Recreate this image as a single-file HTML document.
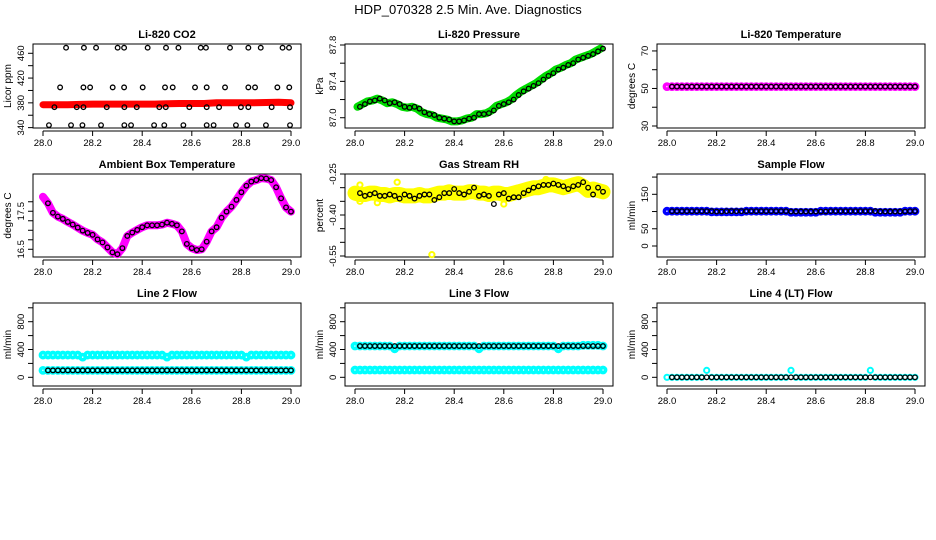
<!DOCTYPE html>
<html><head><meta charset="utf-8">
<style>
html,body{margin:0;padding:0;background:#fff;}
svg{display:block;font-family:"Liberation Sans",Arial,sans-serif;}
</style></head>
<body>
<svg id="fig" width="936" height="540" viewBox="0 0 936 540" xmlns="http://www.w3.org/2000/svg">
<rect width="936" height="540" fill="#fff"/>
<text x="468" y="14" text-anchor="middle" font-size="13">HDP_070328  2.5 Min. Ave. Diagnostics</text>
</svg>
<script>
// ---- data arrays ----
const xTicks = [28.0, 28.2, 28.4, 28.6, 28.8, 29.0];
const xTickLabels = ["28.0","28.2","28.4","28.6","28.8","29.0"];

const co2X = [28.093,28.165,28.214,28.301,28.327,28.422,28.496,28.546,28.636,28.657,28.754,28.828,28.878,28.966,28.992,
 28.069,28.163,28.190,28.281,28.327,28.402,28.492,28.523,28.613,28.660,28.734,28.828,28.855,28.945,28.993,
 28.046,28.136,28.163,28.257,28.328,28.378,28.469,28.495,28.590,28.660,28.710,28.798,28.828,28.922,28.996,
 28.024,28.113,28.159,28.234,28.328,28.355,28.448,28.489,28.566,28.660,28.688,28.778,28.824,28.899,28.996];
const co2Vals = [469,469,469,469,469,469,469,469,469,469,469,469,469,469,469,
 405,405,405,405,405,405,405,405,405,405,405,405,405,405,405,
 373,373,373,373,373,373,373,373,373,373,373,373,373,373,373,
 344,344,344,344,344,344,344,344,344,344,344,344,344,344,344];
const co2Red = [377,377,377,377.5,378,378,378,378,378,378,378.5,379,379,379,380,380,380,380,380.5,381,380];

const pressBlack = [87.12,87.15,87.18,87.19,87.21,87.19,87.16,87.17,87.15,87.12,87.11,87.12,87.10,87.06,87.04,87.03,87.00,86.99,86.98,86.96,86.96,86.97,86.99,87.00,87.04,87.04,87.05,87.08,87.13,87.15,87.17,87.20,87.25,87.29,87.32,87.35,87.38,87.42,87.46,87.49,87.53,87.55,87.58,87.60,87.64,87.66,87.68,87.70,87.73,87.76];

const liTempBlack = [51,51,51,51,51,51,51,51,51,51,51,51,51,51,51,51,51,51,51,51,51,51,51,51,51,51,51,51,51,51,51,51,51,51,51,51,51,51,51,51,51,51,51,51,51,51,51,51,51,51];
const liTempMag = [51,51,51,51,51,51,51,51,51,51,51,51,51,51,51,51,51,51,51,51,51,51,51,51,51,51,51,51,51,51,51,51,51,51,51,51,51,51,51,51,51,51,51,51,51,51,51,51,51,51,51];

const ambVals = [17.88,17.71,17.46,17.36,17.30,17.22,17.15,17.07,16.99,16.93,16.88,16.76,16.68,16.55,16.42,16.37,16.53,16.85,16.94,17.01,17.08,17.13,17.13,17.13,17.15,17.20,17.17,17.13,16.97,16.64,16.53,16.48,16.50,16.70,16.97,17.08,17.33,17.49,17.62,17.80,18.00,18.17,18.28,18.32,18.37,18.36,18.32,18.13,17.84,17.60,17.49];

const rhBlack = [-0.32,-0.33,-0.325,-0.32,-0.33,-0.33,-0.325,-0.33,-0.34,-0.325,-0.33,-0.34,-0.33,-0.325,-0.325,-0.345,-0.335,-0.32,-0.32,-0.305,-0.32,-0.325,-0.315,-0.30,-0.33,-0.325,-0.33,-0.36,-0.325,-0.32,-0.34,-0.335,-0.335,-0.32,-0.31,-0.30,-0.295,-0.29,-0.29,-0.285,-0.29,-0.295,-0.305,-0.295,-0.29,-0.28,-0.30,-0.325,-0.30,-0.315];
const rhYellow = [-0.32,-0.325,-0.325,-0.32,-0.32,-0.325,-0.325,-0.33,-0.325,-0.325,-0.33,-0.33,-0.33,-0.325,-0.33,-0.33,-0.325,-0.32,-0.32,-0.315,-0.32,-0.32,-0.32,-0.315,-0.315,-0.32,-0.32,-0.325,-0.32,-0.32,-0.325,-0.325,-0.32,-0.315,-0.31,-0.305,-0.30,-0.30,-0.295,-0.29,-0.29,-0.295,-0.30,-0.295,-0.29,-0.285,-0.295,-0.31,-0.305,-0.31,-0.315];
const rhOutX = [28.02,28.02,28.17,28.31,28.60,28.09,28.77];
const rhOutVals = [-0.29,-0.35,-0.28,-0.545,-0.36,-0.355,-0.27];

const flowBlack = [101,101,101,101,101,101,101,101,101,100,100,101,101,101,101,101,101,101,101,101,101,101,101,101,100,100,100,100,100,100,100,100,101,101,101,101,101,101,101,101,101,101,100,100,100,100,100,100,101,101];
const flowBlue = [101,101,101,101,101,101,101,101,101,99,99,99,99,99,99,99,101,101,101,101,101,101,101,101,101,98,98,98,98,98,98,101,101,101,101,101,101,101,101,101,101,101,98,98,98,98,98,98,101,101,101];

const l2Black = [100,100,100,100,100,100,100,100,100,100,100,100,100,100,100,100,100,100,100,100,100,100,100,100,100,100,100,100,100,100,100,100,100,100,100,100,100,100,100,100,100,100,100,100,100,100,100,100,100,100];
const l2CyanHi = [320,320,320,320,320,320,320,320,290,320,320,320,320,320,320,320,320,320,320,320,320,320,320,320,320,290,320,320,320,320,320,320,320,320,320,320,320,320,320,320,320,290,320,320,320,320,320,320,320,320,320];
const l2CyanLo = [100,100,100,100,100,100,100,100,100,100,100,100,100,100,100,100,100,100,100,100,100,100,100,100,100,100,100,100,100,100,100,100,100,100,100,100,100,100,100,100,100,100,100,100,100,100,100,100,100,100,100];

const l3Black = [450,450,450,450,450,450,450,450,450,450,450,450,450,450,450,450,450,450,450,450,450,450,450,450,450,450,450,450,450,450,450,450,450,450,450,450,450,450,450,450,450,450,450,450,450,450,450,450,450,450];
const l3CyanHi = [450,450,450,450,450,450,450,450,410,450,450,450,450,450,450,450,450,450,450,450,450,450,450,450,450,410,450,450,450,450,450,450,450,450,450,450,450,450,450,450,450,410,450,450,450,450,460,460,460,460,450];
const l3CyanLo = [105,105,105,105,105,105,105,105,105,105,105,105,105,105,105,105,105,105,105,105,105,105,105,105,105,105,105,105,105,105,105,105,105,105,105,105,105,105,105,105,105,105,105,105,105,105,105,105,105,105,105];

const l4Black = [0,0,0,0,0,0,0,0,0,0,0,0,0,0,0,0,0,0,0,0,0,0,0,0,0,0,0,0,0,0,0,0,0,0,0,0,0,0,0,0,0,0,0,0,0,0,0,0,0,0];
const l4Cyan = [0,0,0,0,0,0,0,0,100,0,0,0,0,0,0,0,0,0,0,0,0,0,0,0,0,100,0,0,0,0,0,0,0,0,0,0,0,0,0,0,0,100,0,0,0,0,0,0,0,0,0];

// ---- drawing ----
const NS = "http://www.w3.org/2000/svg";
const svg = document.getElementById("fig");
function mk(tag, attrs, parent){ const e=document.createElementNS(NS,tag); for(const k in attrs) e.setAttribute(k,attrs[k]); (parent||svg).appendChild(e); return e; }

const colX = [43, 355, 667];
const xSpan = 248;
const rowBox = [[44,128],[174,257],[303,386]];

function makePanel(name, col, row, title, ylab, yTop, yBot, yTicks, yLabels){
  const g = mk("g",{});
  
  
  const x0 = colX[col], [top,bot] = rowBox[row];
  const left = x0-10, right = x0+xSpan+10;
  const sx = v => x0 + (v-28)*xSpan;
  const sy = v => bot - (v-yBot)/(yTop-yBot)*(bot-top);
  const t = mk("text",{x:(left+right)/2, y:top-6, "text-anchor":"middle","font-size":"11","font-weight":"bold"},g);
  t.textContent = title;
  
  
  const box = mk("rect",{x:left,y:top,width:right-left,height:bot-top,fill:"none",stroke:"#000","stroke-width":"1"},g);
  
  
  const xa = mk("g",{},g);
  
  
  mk("line",{x1:sx(28),x2:sx(29),y1:bot+3,y2:bot+3,stroke:"#000"},xa);
  xTicks.forEach((v,i)=>{
    mk("line",{x1:sx(v),x2:sx(v),y1:bot+3,y2:bot+8,stroke:"#000"},xa);
    const tl = mk("text",{x:sx(v),y:bot+18,"text-anchor":"middle","font-size":"9.5"},xa);
    tl.textContent = xTickLabels[i];
    
    
  });
  const ya = mk("g",{},g);
  
  
  mk("line",{x1:left,x2:left,y1:sy(yTicks[0]),y2:sy(yTicks[yTicks.length-1]),stroke:"#000"},ya);
  yTicks.forEach(v=>{
    mk("line",{x1:left-5,x2:left,y1:sy(v),y2:sy(v),stroke:"#000"},ya);
  });
  yLabels.forEach(l=>{
    const yy = sy(parseFloat(l));
    const tl = mk("text",{x:0,y:0,"text-anchor":"middle","font-size":"9.5",transform:`translate(${left-9},${yy}) rotate(-90)`},ya);
    tl.textContent = l;
    
    
  });
  const yt = mk("text",{x:0,y:0,"text-anchor":"middle","font-size":"10",transform:`translate(${left-22},${(top+bot)/2}) rotate(-90)`},g);
  yt.textContent = ylab;
  
  
  const plot = mk("g",{},g);
  
  
  return {g:plot, sx, sy};
}

function pts(p, xs, vals, color, r, sw, name){
  const gg = mk("g",{},p.g);
  
  
  vals.forEach((v,i)=>{
    const c = mk("circle",{cx:p.sx(xs[i]),cy:p.sy(v),r:r,fill:"none",stroke:color,"stroke-width":sw},gg);
    
    
  });
}
function band(p, xs, vals, color, w, name){
  const d = vals.map((v,i)=>(i?"L":"M")+p.sx(xs[i]).toFixed(1)+","+p.sy(v).toFixed(1)).join("");
  const path = mk("path",{d:d,fill:"none",stroke:color,"stroke-width":w,"stroke-linecap":"round","stroke-linejoin":"round"},p.g);
  
  
}
const gridB = i => 28.02 + i*0.02;
const gridC = i => 28.00 + i*0.02;
const xsB = n => Array.from({length:n},(_,i)=>gridB(i));
const xsC = n => Array.from({length:n},(_,i)=>gridC(i));
const xs05 = n => Array.from({length:n},(_,i)=>28+i*0.05);
const BR=2.3, BW=1.3, CR=2.6, CW=3.6;

let p = makePanel("co2-panel",0,0,"Li-820 CO2","Licor ppm",475,339.4,[340,360,380,400,420,440,460],["340","380","420","460"]);
band(p, xs05(co2Red.length), co2Red, "#ff0000", 7, "co2-red-series");
pts(p, co2X, co2Vals, "#000", BR, BW, "co2-black-series");

p = makePanel("pressure-panel",1,0,"Li-820 Pressure","kPa",87.811,86.887,[87.0,87.2,87.4,87.6,87.8],["87.0","87.4","87.8"]);
band(p, xsB(pressBlack.length).map(v=>v-0.01), pressBlack, "#00dd00", 8, "pressure-green-series");
pts(p, xsB(pressBlack.length), pressBlack, "#000", BR, BW, "pressure-black-series");

p = makePanel("li-temp-panel",2,0,"Li-820 Temperature","degrees C",73.7,28.93,[30,40,50,60,70],["30","50","70"]);
pts(p, xsC(liTempMag.length), liTempMag, "#ff00ff", CR, CW, "li-temp-magenta-series");
pts(p, xsB(liTempBlack.length), liTempBlack, "#000", BR, BW, "li-temp-black-series");

p = makePanel("ambient-temp-panel",0,1,"Ambient Box Temperature","degrees C",18.48,16.297,[16.5,16.75,17.0,17.25,17.5,17.75],["16.5","17.5"]);
band(p, xsC(ambVals.length), ambVals, "#ff00ff", 8, "ambient-magenta-series");
pts(p, xsC(ambVals.length).slice(1), ambVals.slice(1), "#000", BR, BW, "ambient-black-series");

p = makePanel("rh-panel",1,1,"Gas Stream RH","percent",-0.25,-0.5537,[-0.55,-0.5,-0.45,-0.4,-0.35,-0.3,-0.25],["-0.25","-0.40","-0.55"]);
band(p, xsC(rhYellow.length), rhYellow, "#ffff00", 15, "rh-yellow-series");
pts(p, rhOutX, rhOutVals, "#ffff00", CR, 2, "rh-yellow-outliers");
pts(p, xsB(rhBlack.length), rhBlack, "#000", BR, BW, "rh-black-series");

p = makePanel("sample-flow-panel",2,1,"Sample Flow","ml/min",208.9,-31.9,[0,50,100,150,200],["0","50","150"]);
pts(p, xsC(flowBlue.length), flowBlue, "#0000ff", CR, CW, "sample-flow-blue-series");
pts(p, xsB(flowBlack.length), flowBlack, "#000", BR, BW, "sample-flow-black-series");

const fT=[0,200,400,600,800,1000], fL=["0","400","800"];
p = makePanel("line2-flow-panel",0,2,"Line 2 Flow","ml/min",1069,-125,fT,fL);
pts(p, xsC(l2CyanHi.length), l2CyanHi, "#00ffff", CR, CW, "line2-cyan-high");
pts(p, xsC(l2CyanLo.length), l2CyanLo, "#00ffff", CR, CW, "line2-cyan-low");
pts(p, xsB(l2Black.length), l2Black, "#000", BR, BW, "line2-black-series");

p = makePanel("line3-flow-panel",1,2,"Line 3 Flow","ml/min",1069,-125,fT,fL);
pts(p, xsC(l3CyanHi.length), l3CyanHi, "#00ffff", CR, CW, "line3-cyan-high");
pts(p, xsC(l3CyanLo.length), l3CyanLo, "#00ffff", CR, CW, "line3-cyan-low");
pts(p, xsB(l3Black.length), l3Black, "#000", BR, BW, "line3-black-series");

p = makePanel("line4-flow-panel",2,2,"Line 4 (LT) Flow","ml/min",1069,-125,fT,fL);
pts(p, xsC(l4Cyan.length), l4Cyan, "#00ffff", 2.6, 2, "line4-cyan-series");
pts(p, xsB(l4Black.length), l4Black, "#000", BR, BW, "line4-black-series");
</script>
</body></html>
